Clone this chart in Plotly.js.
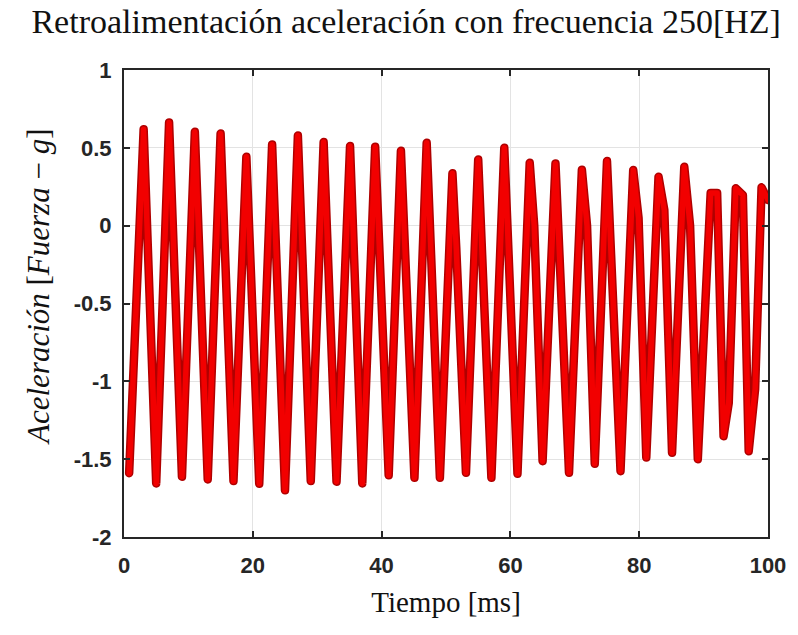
<!DOCTYPE html>
<html>
<head>
<meta charset="utf-8">
<script src="https://cdn.plot.ly/plotly-3.0.1.min.js"></script>
<style>
html,body{margin:0;padding:0;background:#fff;}
#chart{width:798px;height:635px;}
#chart .js-line{stroke-linejoin:round !important;stroke-linecap:round !important;}
</style>
</head>
<body>
<div id="chart"></div>
<script>
// Time (ms) and acceleration values
const tiempo = [0.8, 3.05, 5.0, 7.0, 9.0, 11.0, 13.0, 15.0, 17.0, 19.0, 21.0, 23.0, 25.0, 27.0, 29.0, 31.0, 33.0, 35.1, 37.0, 39.0,
  41.1, 43.0, 45.1, 47.0, 49.05, 51.0, 51.6, 53.1, 55.0, 57.05, 59.05, 61.1, 63.0, 63.7, 65.0, 67.0, 69.1, 71.1, 71.9, 73.1,
  75.0, 77.1, 79.07, 79.9, 81.1, 83.0, 83.9, 85.1, 87.0, 87.9, 89.1, 91.1, 92.1, 93.1, 93.9, 95.0, 96.1, 97.0, 98.0, 99.0, 100];
const aceleracion = [-1.59, 0.62, -1.656, 0.663, -1.613, 0.603, -1.63, 0.592, -1.641, 0.442, -1.658, 0.522, -1.70, 0.579, -1.641, 0.537, -1.645, 0.511, -1.656, 0.507,
  -1.604, 0.481, -1.62, 0.532, -1.62, 0.336, -0.15, -1.588, 0.425, -1.62, 0.50, -1.594, 0.404, 0.0, -1.513, 0.40, -1.588, 0.36, 0.0, -1.53,
  0.415, -1.577, 0.357, 0.05, -1.49, 0.314, 0.1, -1.459, 0.378, 0.0, -1.50, 0.21, 0.21, -1.353, -1.14, 0.24, 0.197, -1.449, -1.05, 0.246, 0.165];
const xTicks = [0, 20, 40, 60, 80, 100];
const yTicks = [-2, -1.5, -1, -0.5, 0, 0.5, 1];
const yTickText = ['-2', '-1.5', '-1', '-0.5', '0', '0.5', '1'];

const traces = [
  {x: tiempo, y: aceleracion, mode: 'lines', line: {color: '#b00000', width: 8.5}, hoverinfo: 'skip', showlegend: false},
  {x: tiempo, y: aceleracion, mode: 'lines', line: {color: '#f20000', width: 5.5}, showlegend: false}
];

const tickFont = {family: 'Liberation Sans, Arial, sans-serif', size: 22, color: '#262626', weight: 'bold'};
const axisCommon = {
  showline: true, linecolor: '#262626', linewidth: 2, mirror: 'ticks',
  ticks: 'inside', ticklen: 6, tickwidth: 2, tickcolor: '#262626',
  showgrid: true, gridcolor: '#e3e3e3', gridwidth: 1, zeroline: false,
  tickfont: tickFont
};
const serif = 'Liberation Serif, Times New Roman, serif';

const layout = {
  width: 798, height: 635,
  paper_bgcolor: '#fff', plot_bgcolor: '#fff',
  margin: {l: 124, r: 30, t: 70, b: 98},
  title: {text: 'Retroalimentación aceleración con frecuencia 250[HZ]', x: 0.509, xref: 'container', y: 0.966, yref: 'container', yanchor: 'middle',
    font: {family: serif, size: 34, color: '#111'}},
  xaxis: Object.assign({}, axisCommon, {range: [0, 100], tickvals: xTicks, ticklabelstandoff: 8,
    title: {text: 'Tiempo [ms]', standoff: 14, font: {family: serif, size: 29, color: '#111'}}}),
  yaxis: Object.assign({}, axisCommon, {range: [-2, 1], tickvals: yTicks, ticktext: yTickText, ticklabelstandoff: 6}),
  annotations: [{
    text: '<i>Aceleración</i> [<i>Fuerza</i> − <i>g</i>]', textangle: -90,
    xref: 'paper', yref: 'paper', x: (38 - 124) / 644, y: (537 - 287) / 467,
    xanchor: 'center', yanchor: 'middle', showarrow: false,
    font: {family: serif, size: 31, color: '#111'}
  }]
};

Plotly.newPlot('chart', traces, layout, {displayModeBar: false, staticPlot: true});
</script>
</body>
</html>
